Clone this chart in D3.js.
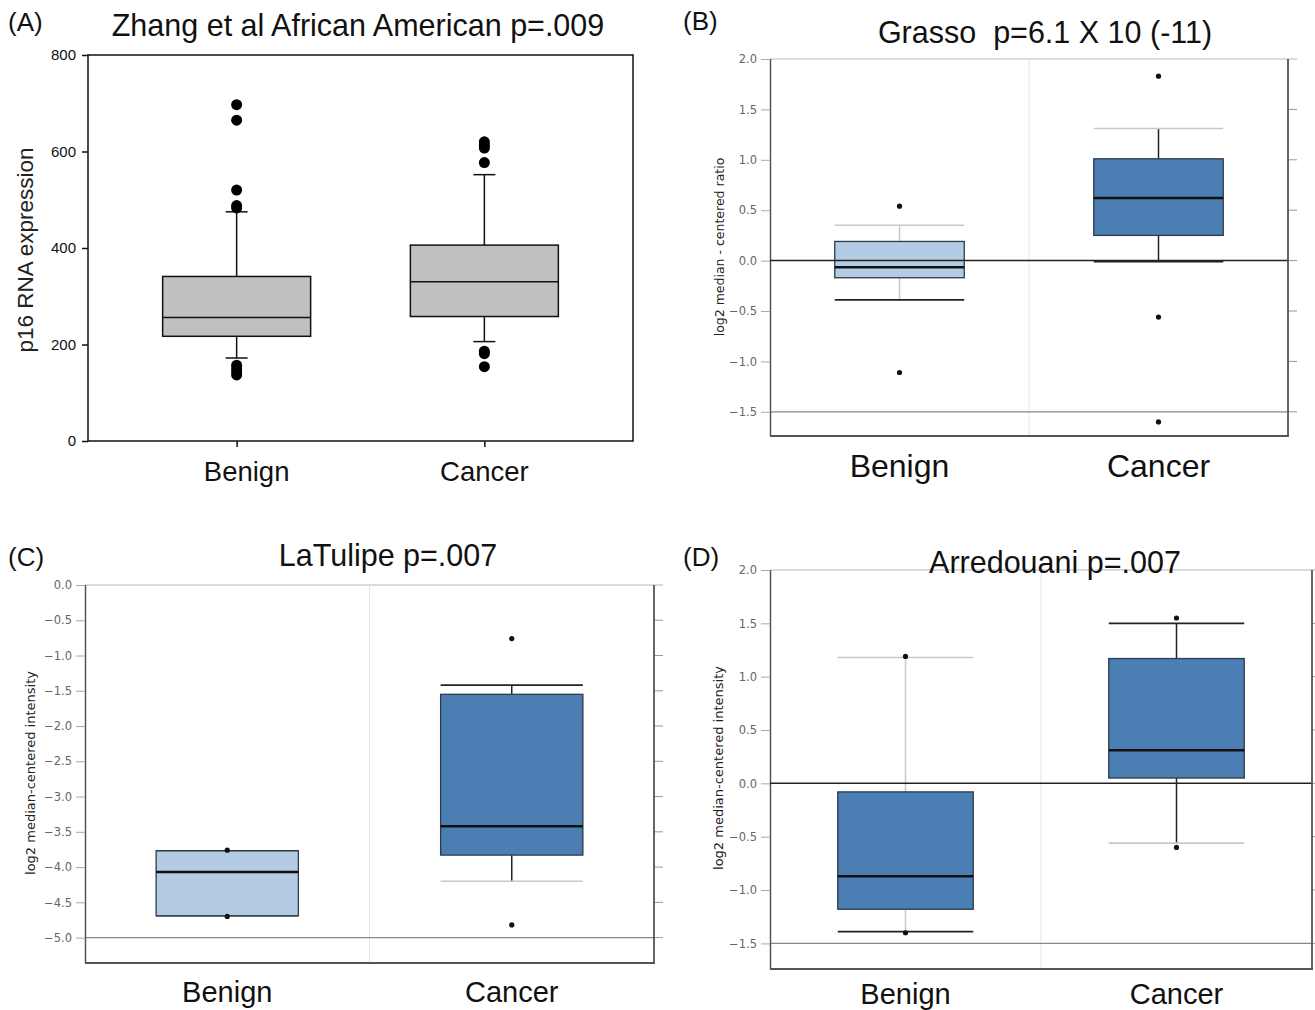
<!DOCTYPE html>
<html>
<head>
<meta charset="utf-8">
<script src="https://cdn.jsdelivr.net/npm/d3@7"></script>
<style>
body { margin: 0; background: #fff; }
text { font-family: "Liberation Sans", Arial, sans-serif; white-space: pre; }
</style>
</head>
<body>
<svg id="fig" width="1315" height="1010"></svg>
<script>
var groups = ["Benign", "Cancer"];

// five-number summaries per group: [lower whisker, q1, median, q3, upper whisker]
var zhangStats = [[172, 217, 256, 341, 475], [206, 258, 330, 406, 552]];
var zhangOutliers = [[697, 665, 520, 488, 483, 157, 150, 143, 137], [620, 613, 607, 577, 186, 181, 154]];
var zhangTicks = [0, 200, 400, 600, 800];

var grassoStats = [[-0.39, -0.17, -0.066, 0.19, 0.35], [-0.01, 0.25, 0.62, 1.01, 1.31]];
var grassoOutliers = [[0.54, -1.11], [1.83, -0.56, -1.60]];
var grassoTicks = [-1.5, -1.0, -0.5, 0.0, 0.5, 1.0, 1.5, 2.0];

var latulipeStats = [[-4.69, -4.69, -4.07, -3.77, -3.77], [-4.20, -3.83, -3.42, -1.55, -1.42]];
var latulipeOutliers = [[-3.76, -4.70], [-0.76, -4.82]];
var latulipeTicks = [-5.0, -4.5, -4.0, -3.5, -3.0, -2.5, -2.0, -1.5, -1.0, -0.5, 0.0];

var arredouaniStats = [[-1.39, -1.18, -0.87, -0.08, 1.18], [-0.56, 0.05, 0.31, 1.17, 1.50]];
var arredouaniOutliers = [[1.19, -1.40], [1.55, -0.60]];
var arredouaniTicks = [-1.5, -1.0, -0.5, 0.0, 0.5, 1.0, 1.5, 2.0];

var svg = d3.select("#fig");
var DARK = "#222", LIGHT = "#c8c8c8";
var paleBlue = "#b3cbe3", steelBlue = "#4b7eb2";

function label(txt, x, y, size, anchor) {
  svg.append("text").attr("x", x).attr("y", y)
    .attr("font-size", size).attr("text-anchor", anchor || "start")
    .attr("fill", "#111").text(txt);
}

function rotLabel(txt, x, y, size, family) {
  svg.append("text")
    .attr("transform", "translate(" + x + "," + y + ") rotate(-90)")
    .attr("text-anchor", "middle").attr("dy", "0.35em")
    .attr("font-size", size).attr("fill", "#222")
    .style("font-family", family || null)
    .text(txt);
}

// ---------- panel A (SigmaPlot style) ----------
function drawZhang() {
  var left = 88, right = 633, top = 55, bottom = 441;
  var x = d3.scalePoint().domain(groups).range([left, right]).padding(0.6);
  var y = d3.scaleLinear().domain([0, 800]).range([bottom, top]);
  var g = svg.append("g");
  var half = 74, cap = 11;

  g.append("rect").attr("x", left).attr("y", top)
    .attr("width", right - left).attr("height", bottom - top)
    .attr("fill", "none").attr("stroke", "#111").attr("stroke-width", 1.5);

  var ya = g.append("g").attr("transform", "translate(" + left + ",0)")
    .call(d3.axisLeft(y).tickValues(zhangTicks).tickSize(6).tickPadding(6).tickSizeOuter(0));
  ya.select(".domain").remove();
  ya.selectAll("line").attr("stroke", "#111").attr("stroke-width", 1.5);
  ya.selectAll("text").attr("font-size", 15).attr("fill", "#111")
    .style("font-family", "Liberation Sans, Arial, sans-serif");

  var xa = g.append("g").attr("transform", "translate(0," + bottom + ")")
    .call(d3.axisBottom(x).tickSize(6).tickSizeOuter(0));
  xa.select(".domain").remove();
  xa.selectAll("line").attr("stroke", "#111").attr("stroke-width", 1.5);
  xa.selectAll("text").remove();

  groups.forEach(function (grp, i) {
    var s = zhangStats[i], cx = x(grp);
    g.append("line").attr("x1", cx).attr("x2", cx).attr("y1", y(s[3])).attr("y2", y(s[4]))
      .attr("stroke", "#111").attr("stroke-width", 1.5);
    g.append("line").attr("x1", cx).attr("x2", cx).attr("y1", y(s[1])).attr("y2", y(s[0]))
      .attr("stroke", "#111").attr("stroke-width", 1.5);
    [s[0], s[4]].forEach(function (v) {
      g.append("line").attr("x1", cx - cap).attr("x2", cx + cap).attr("y1", y(v)).attr("y2", y(v))
        .attr("stroke", "#111").attr("stroke-width", 1.5);
    });
    g.append("rect").attr("x", cx - half).attr("width", 2 * half)
      .attr("y", y(s[3])).attr("height", y(s[1]) - y(s[3]))
      .attr("fill", "#c0c0c0").attr("stroke", "#111").attr("stroke-width", 1.5);
    g.append("line").attr("x1", cx - half).attr("x2", cx + half).attr("y1", y(s[2])).attr("y2", y(s[2]))
      .attr("stroke", "#111").attr("stroke-width", 1.5);
    g.selectAll(null).data(zhangOutliers[i]).join("circle")
      .attr("cx", cx).attr("cy", function (d) { return y(d); }).attr("r", 5.5).attr("fill", "#000");
  });

  var dx = [10, 0];
  groups.forEach(function (grp, i) { label(grp, x(grp) + dx[i], 481, 27.5, "middle"); });
  rotLabel("p16 RNA expression", 25, 250, 22.5);
  label("(A)", 8, 31, 26);
  label("Zhang et al African American p=.009", 358, 36, 30.5, "middle");
}

// ---------- panels B-D (Oncomine style) ----------
function drawOncomine(p) {
  var x = d3.scaleBand().domain(groups).range([p.left, p.right]);
  var y = d3.scaleLinear().domain(p.domain).range([p.bottom, p.top]);
  var g = svg.append("g");
  var half = x.bandwidth() / 4;
  var yMax = d3.max(p.ticks), yMin = d3.min(p.ticks);

  // top reference line, right ticks, divider, lowest grid line
  g.append("line").attr("x1", p.left).attr("x2", p.right + 9).attr("y1", y(yMax)).attr("y2", y(yMax))
    .attr("stroke", "#cfcfcf").attr("stroke-width", 1.5);
  g.selectAll(null).data(p.ticks.filter(function (t) { return t !== yMax; })).join("line")
    .attr("x1", p.right).attr("x2", p.right + 9)
    .attr("y1", function (d) { return y(d); }).attr("y2", function (d) { return y(d); })
    .attr("stroke", "#999").attr("stroke-width", 1);
  g.append("line").attr("x1", x("Cancer")).attr("x2", x("Cancer")).attr("y1", y(yMax)).attr("y2", p.bottom)
    .attr("stroke", "#e4e4e4").attr("stroke-width", 1);
  g.append("line").attr("x1", p.left).attr("x2", p.right).attr("y1", y(yMin)).attr("y2", y(yMin))
    .attr("stroke", "#888").attr("stroke-width", 1.3);

  var ya = g.append("g").attr("transform", "translate(" + p.left + ",0)")
    .call(d3.axisLeft(y).tickValues(p.ticks).tickFormat(d3.format(".1f")).tickSize(9).tickPadding(4).tickSizeOuter(0));
  ya.select(".domain").attr("stroke", "#555").attr("stroke-width", 1.5)
    .attr("d", "M0.5," + y(yMax) + "V" + p.bottom);
  ya.selectAll(".tick line").attr("stroke", "#aaa");
  ya.selectAll("text").attr("font-size", 11.5).attr("fill", "#666")
    .style("font-family", "DejaVu Sans, sans-serif");

  groups.forEach(function (grp, i) {
    var s = p.stats[i], cx = x(grp) + x.bandwidth() / 2;
    g.append("line").attr("x1", cx).attr("x2", cx).attr("y1", y(s[3])).attr("y2", y(s[4]))
      .attr("stroke", p.stems[i]).attr("stroke-width", 1.5);
    g.append("line").attr("x1", cx).attr("x2", cx).attr("y1", y(s[1])).attr("y2", y(s[0]))
      .attr("stroke", p.stems[i]).attr("stroke-width", 1.5);
    g.append("line").attr("x1", cx - half).attr("x2", cx + half).attr("y1", y(s[4])).attr("y2", y(s[4]))
      .attr("stroke", p.caps[i][0]).attr("stroke-width", 1.6);
    g.append("line").attr("x1", cx - half).attr("x2", cx + half).attr("y1", y(s[0])).attr("y2", y(s[0]))
      .attr("stroke", p.caps[i][1]).attr("stroke-width", 1.6);
    g.append("rect").attr("x", cx - half).attr("width", 2 * half)
      .attr("y", y(s[3])).attr("height", y(s[1]) - y(s[3]))
      .attr("fill", p.fills[i]).attr("stroke", "#2d3b4a").attr("stroke-width", 1.3);
    g.append("line").attr("x1", cx - half).attr("x2", cx + half).attr("y1", y(s[2])).attr("y2", y(s[2]))
      .attr("stroke", "#111").attr("stroke-width", 2.5);
    g.selectAll(null).data(p.outliers[i]).join("circle")
      .attr("cx", cx).attr("cy", function (d) { return y(d); }).attr("r", 2.6).attr("fill", "#111");
  });

  if (p.domain[0] < 0 && p.domain[1] > 0 && yMax > 0) {
    g.append("line").attr("x1", p.left).attr("x2", p.right).attr("y1", y(0)).attr("y2", y(0))
      .attr("stroke", "#222").attr("stroke-width", 1.5);
  }

  // frame: bottom and right
  g.append("line").attr("x1", p.left).attr("x2", p.right + 1).attr("y1", p.bottom).attr("y2", p.bottom)
    .attr("stroke", "#555").attr("stroke-width", 2);
  g.append("line").attr("x1", p.right).attr("x2", p.right).attr("y1", y(yMax)).attr("y2", p.bottom)
    .attr("stroke", "#555").attr("stroke-width", 1.8);

  groups.forEach(function (grp) {
    label(grp, x(grp) + x.bandwidth() / 2, p.labelY, p.labelSize, "middle");
  });
  rotLabel(p.yTitle, p.yTitleX, p.yTitleY, p.yTitleSize, "DejaVu Sans, sans-serif");
  label(p.tag, p.tagX, p.tagY, 26);
  label(p.title, p.titleX, p.titleY, 30.5, "middle");
}

drawZhang();

drawOncomine({
  left: 770, right: 1288, top: 59, bottom: 436, domain: [-1.74, 2.0],
  ticks: grassoTicks, stats: grassoStats, outliers: grassoOutliers,
  fills: [paleBlue, steelBlue], stems: [LIGHT, DARK], caps: [[LIGHT, DARK], [LIGHT, DARK]],
  labelY: 477, labelSize: 32,
  yTitle: "log2 median - centered ratio", yTitleX: 720, yTitleY: 247, yTitleSize: 12.5,
  tag: "(B)", tagX: 683, tagY: 30, title: "Grasso  p=6.1 X 10 (-11)", titleX: 1045, titleY: 43
});

drawOncomine({
  left: 85, right: 654, top: 585, bottom: 963, domain: [-5.36, 0],
  ticks: latulipeTicks, stats: latulipeStats, outliers: latulipeOutliers,
  fills: [paleBlue, steelBlue], stems: [DARK, DARK], caps: [[DARK, DARK], [DARK, LIGHT]],
  labelY: 1002, labelSize: 29,
  yTitle: "log2 median-centered intensity", yTitleX: 30, yTitleY: 773, yTitleSize: 13,
  tag: "(C)", tagX: 8, tagY: 566, title: "LaTulipe p=.007", titleX: 388, titleY: 566
});

drawOncomine({
  left: 770, right: 1312, top: 570, bottom: 969, domain: [-1.74, 2.0],
  ticks: arredouaniTicks, stats: arredouaniStats, outliers: arredouaniOutliers,
  fills: [steelBlue, steelBlue], stems: [LIGHT, DARK], caps: [[LIGHT, DARK], [DARK, LIGHT]],
  labelY: 1004, labelSize: 29,
  yTitle: "log2 median-centered intensity", yTitleX: 718, yTitleY: 768, yTitleSize: 13,
  tag: "(D)", tagX: 683, tagY: 566, title: "Arredouani p=.007", titleX: 1055, titleY: 573
});
</script>
</body>
</html>
